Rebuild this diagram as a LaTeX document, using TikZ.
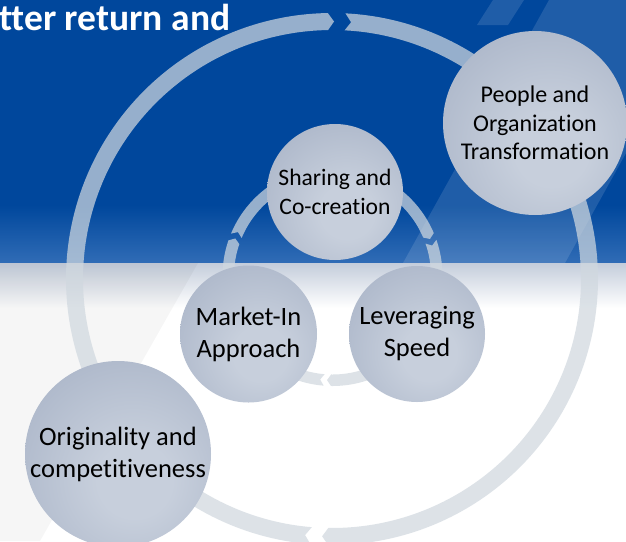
\documentclass[tikz,border=0pt]{standalone}
\usepackage{fontspec}
\setmainfont{Carlito}[Ligatures={NoCommon}]
\definecolor{bgblue}{RGB}{0,71,156}
\definecolor{bgblue2}{RGB}{48,108,182}
\definecolor{bandgrey}{RGB}{196,205,219}
\definecolor{ringcol}{RGB}{208,216,223}
\definecolor{nodein}{RGB}{199,207,220}
\definecolor{nodeout}{RGB}{156,168,190}
\pgfdeclareradialshading{nodeshade}{\pgfpoint{5bp}{-8bp}}{color(0bp)=(nodein); color(10bp)=(nodein); color(50bp)=(nodeout); color(100bp)=(nodeout)}
\newcommand{\ringpiece}[7]{% cx, cy, Rin, Rout, start, end, tip
  \pgfmathsetmacro{\rpmid}{(#3+#4)/2}%
  \pgfmathsetmacro{\rptip}{#6+#7}%
  \pgfmathsetmacro{\rpnotch}{#5+#7}%
  \fill[ringfill, shift={(#1,#2)}] plot[domain=#5:#6, samples=150] (\x:#4) -- (\rptip:\rpmid) -- (#6:#3) -- plot[domain=#6:#5, samples=150] (\x:#3) -- (\rpnotch:\rpmid) -- cycle;
}
\begin{document}
\begin{tikzpicture}[x=1pt,y=-1pt,
  nodecirc/.style={circle, shade, shading=nodeshade, inner sep=0pt, align=center, text=black},
  ringfill/.style={fill=ringcol, fill opacity=0.72},
  bandlight/.style={fill=white, fill opacity=0.12}]
\useasboundingbox (0,0) rectangle (626,541);
\clip (0,0) rectangle (626,541);
% background
\fill[bgblue] (0,0) rectangle (626,263);
\shade[top color=bgblue, bottom color=bgblue2] (0,205) rectangle (626,263);
\fill[bandlight] (493,0) -- (524,0) -- (508,25) -- (477,25) -- cycle;
\fill[bandlight] (549,0) -- (711,0) -- (565,263) -- (403,263) -- cycle;
\fill[white] (0,263) rectangle (626,541);
\shade[top color=bandgrey, bottom color=white] (0,263) rectangle (626,308);
\fill[black, fill opacity=0.035] (0,263) -- (198,263) -- (40,541) -- (0,541) -- cycle;
% title
\node[anchor=base west, inner sep=0pt, text=white, font=\bfseries\fontsize{37.5}{44}\selectfont] (title) at (-1,30) {tter return and};
% outer cycle
\ringpiece{332}{279}{249}{266}{-87.1}{90.85}{1.35}
\ringpiece{332}{279}{249}{266}{94.65}{269.1}{1.35}
% inner cycle
\ringpiece{332.5}{276}{98.5}{110}{-19.2}{90.8}{2.2}
\ringpiece{332.5}{276}{98.5}{110}{94.6}{198.9}{2.2}
\ringpiece{332.5}{276}{98.5}{110}{202.7}{337}{2.2}
% nodes
\node[nodecirc, minimum size=184pt, font=\fontsize{24}{28.5}\selectfont] (people) at (535,123) {People and\\Organization\\Transformation};
\node[nodecirc, minimum size=186pt, font=\fontsize{26.5}{32}\selectfont] (orig) at (118,454) {Originality and\\competitiveness};
\node[nodecirc, minimum size=136pt, font=\fontsize{23.6}{29}\selectfont] (share) at (335,192) {Sharing and\\Co-creation};
\node[nodecirc, minimum size=137pt, font=\fontsize{26.5}{32}\selectfont] (market) at (248.5,334) {Market-In\\Approach};
\node[nodecirc, minimum size=136pt, font=\fontsize{26.5}{32}\selectfont] (lever) at (417,334) {Leveraging\\Speed};
\end{tikzpicture}
\end{document}
